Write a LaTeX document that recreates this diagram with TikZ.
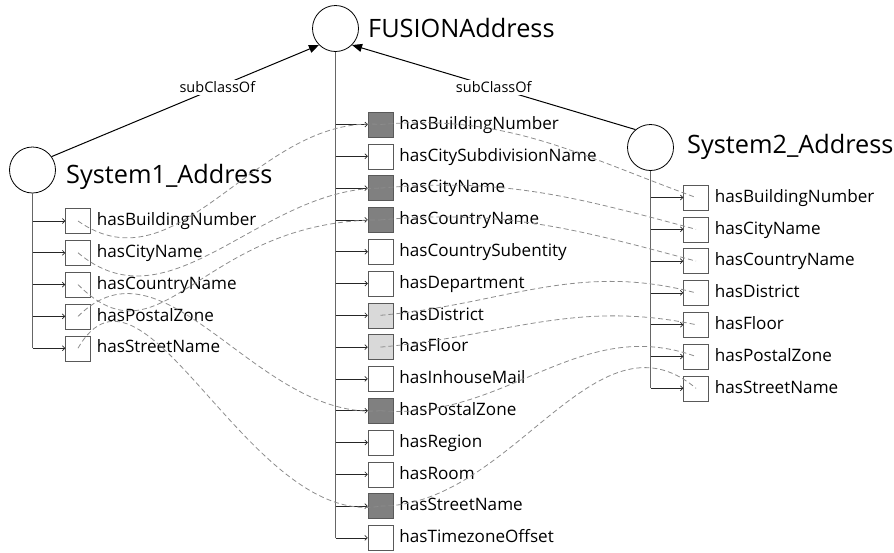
\documentclass[tikz,border=0pt]{standalone}
\usepackage{fontspec}
\setmainfont{Open Sans}
\usepackage{tikz}
\usetikzlibrary{arrows.meta,positioning}

\begin{document}
\begin{tikzpicture}[x=1pt,y=-1pt]
\tikzset{cls/.style={circle, draw=black, thick, minimum size=46pt, inner sep=0pt}}
\tikzset{title/.style={anchor=base west, inner sep=0pt, font=\fontsize{25.3}{30}\selectfont}}
\tikzset{prop/.style={rectangle, draw=black!65, fill=white, minimum size=25pt, inner sep=0pt}}
\tikzset{ptext/.style={inner sep=1pt, xshift=5pt, text height=13pt, text depth=3.5pt, font=\fontsize{17.1}{19}\selectfont}}
\tikzset{dark/.style={fill=black!50}, light/.style={fill=black!15}}
\tikzset{stem/.style={draw=black!60, line width=0.8pt}}
\tikzset{branch/.style={color=black!85, line width=0.7pt, -{Straight Barb[length=2.5pt,width=5pt]}}}
\tikzset{sub/.style={line width=1pt, -{Triangle[length=10pt,width=8pt]}}}
\tikzset{lbl/.style={fill=white, inner sep=2pt, font=\fontsize{14.5}{17}\selectfont}}
\tikzset{map/.style={color=black!45, dash pattern=on 5pt off 3pt, line width=0.8pt}}
\useasboundingbox (0,0) rectangle (894,552);

\node[cls] (fusion) at (335.5,28.5) {};
\node[title] (fusiont) at (368,37) {FUSIONAddress};
\node[cls] (sys1) at (32.5,170) {};
\node[title] (sys1t) at (66,183) {System1\_Address};
\node[cls] (sys2) at (650.5,147.5) {};
\node[title] (sys2t) at (687,153) {System2\_Address};

\draw[sub] (sys1.35) -- node[lbl,pos=0.62] {subClassOf} (fusion.225);
\draw[sub] (sys2.130) -- node[lbl,pos=0.5] {subClassOf} (fusion.-45);

\node[prop,dark,label={[name=c1t,ptext]right:hasBuildingNumber}] (c1) at (380.5,124.5) {};
\node[prop,label={[name=c2t,ptext]right:hasCitySubdivisionName}] (c2) at (380.5,156.3) {};
\node[prop,dark,label={[name=c3t,ptext]right:hasCityName}] (c3) at (380.5,188.1) {};
\node[prop,dark,label={[name=c4t,ptext]right:hasCountryName}] (c4) at (380.5,219.9) {};
\node[prop,label={[name=c5t,ptext]right:hasCountrySubentity}] (c5) at (380.5,251.7) {};
\node[prop,label={[name=c6t,ptext]right:hasDepartment}] (c6) at (380.5,283.5) {};
\node[prop,light,label={[name=c7t,ptext]right:hasDistrict}] (c7) at (380.5,315.3) {};
\node[prop,light,label={[name=c8t,ptext]right:hasFloor}] (c8) at (380.5,347.1) {};
\node[prop,label={[name=c9t,ptext]right:hasInhouseMail}] (c9) at (380.5,378.9) {};
\node[prop,dark,label={[name=c10t,ptext]right:hasPostalZone}] (c10) at (380.5,410.7) {};
\node[prop,label={[name=c11t,ptext]right:hasRegion}] (c11) at (380.5,442.5) {};
\node[prop,label={[name=c12t,ptext]right:hasRoom}] (c12) at (380.5,474.3) {};
\node[prop,dark,label={[name=c13t,ptext]right:hasStreetName}] (c13) at (380.5,506.1) {};
\node[prop,label={[name=c14t,ptext]right:hasTimezoneOffset}] (c14) at (380.5,537.9) {};

\node[prop,label={[name=l1t,ptext]right:hasBuildingNumber}] (l1) at (78,221) {};
\node[prop,label={[name=l2t,ptext]right:hasCityName}] (l2) at (78,252.8) {};
\node[prop,label={[name=l3t,ptext]right:hasCountryName}] (l3) at (78,284.6) {};
\node[prop,label={[name=l4t,ptext]right:hasPostalZone}] (l4) at (78,316.4) {};
\node[prop,label={[name=l5t,ptext]right:hasStreetName}] (l5) at (78,348.2) {};

\node[prop,label={[name=r1t,ptext]right:hasBuildingNumber}] (r1) at (696,197.5) {};
\node[prop,label={[name=r2t,ptext]right:hasCityName}] (r2) at (696,229.3) {};
\node[prop,label={[name=r3t,ptext]right:hasCountryName}] (r3) at (696,261.1) {};
\node[prop,label={[name=r4t,ptext]right:hasDistrict}] (r4) at (696,292.9) {};
\node[prop,label={[name=r5t,ptext]right:hasFloor}] (r5) at (696,324.7) {};
\node[prop,label={[name=r6t,ptext]right:hasPostalZone}] (r6) at (696,356.5) {};
\node[prop,label={[name=r7t,ptext]right:hasStreetName}] (r7) at (696,388.3) {};

\draw[stem] (fusion.south) -- (fusion.south |- c14);
\draw[stem] (sys1.south) -- (sys1.south |- l5);
\draw[stem] (sys2.south) -- (sys2.south |- r7);

\path[branch] (fusion.south |- c1) edge (c1) (fusion.south |- c2) edge (c2)
  (fusion.south |- c3) edge (c3) (fusion.south |- c4) edge (c4)
  (fusion.south |- c5) edge (c5) (fusion.south |- c6) edge (c6)
  (fusion.south |- c7) edge (c7) (fusion.south |- c8) edge (c8)
  (fusion.south |- c9) edge (c9) (fusion.south |- c10) edge (c10)
  (fusion.south |- c11) edge (c11) (fusion.south |- c12) edge (c12)
  (fusion.south |- c13) edge (c13) (fusion.south |- c14) edge (c14);
\path[branch] (sys1.south |- l1) edge (l1) (sys1.south |- l2) edge (l2)
  (sys1.south |- l3) edge (l3) (sys1.south |- l4) edge (l4)
  (sys1.south |- l5) edge (l5);
\path[branch] (sys2.south |- r1) edge (r1) (sys2.south |- r2) edge (r2)
  (sys2.south |- r3) edge (r3) (sys2.south |- r4) edge (r4)
  (sys2.south |- r5) edge (r5) (sys2.south |- r6) edge (r6)
  (sys2.south |- r7) edge (r7);

\path[map] (l1.center) edge[out=-35,in=175] (c1.center)
  (l2.center) edge[out=-40,in=180] (c3.center)
  (l3.center) edge[out=-45,in=180,in looseness=1.5] (c4.center)
  (l4.center) edge[out=45,in=185] (c10.center)
  (l5.center) edge[out=60,in=190] (c13.center);
\path[map] (c1.center) edge[out=5,in=160] (r1.center)
  (c3.center) edge[out=5,in=165] (r2.center)
  (c4.center) edge[out=5,in=165] (r3.center)
  (c7.center) edge[out=5,in=165] (r4.center)
  (c8.center) edge[out=5,in=168] (r5.center)
  (c10.center) edge[out=-5,in=160] (r6.center)
  (c13.center) edge[out=0,in=140] (r7.center);
\end{tikzpicture}
\end{document}
